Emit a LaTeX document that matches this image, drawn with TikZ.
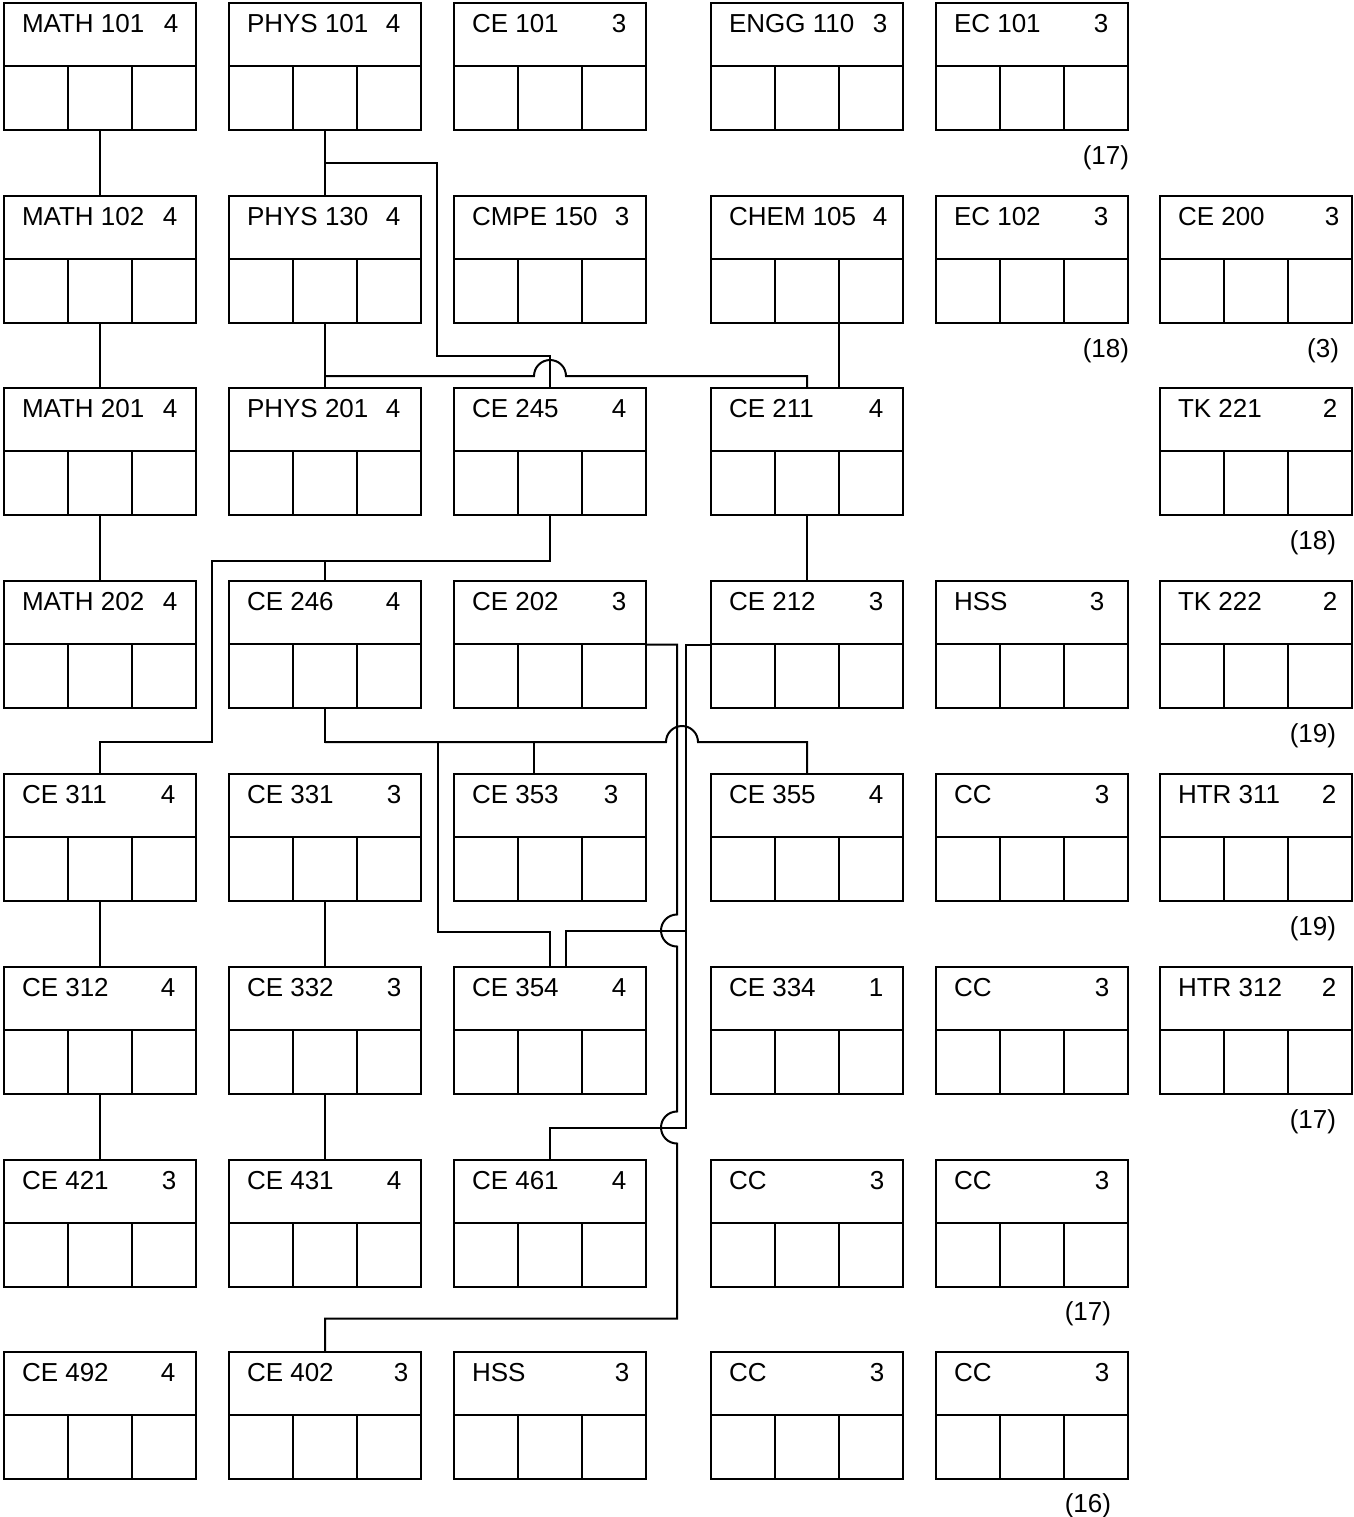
\documentclass[tikz,border=0pt]{standalone}
\usepackage{fontspec}
\setmainfont{Liberation Sans}
\usetikzlibrary{calc}

% one course box: name, left, top, title, credits, x of credits
\newcommand{\course}[6]{%
  \node[box] (#1) at (#2+96,#3+63.5) {};
  \draw (#2,#3+63) -- ++(192,0)
        (#2+64,#3+63) -- ++(0,64)
        (#2+128,#3+63) -- ++(0,64);
  \node[txt,anchor=base west] (#1-t) at (#2+17,#3+29.5) {#4};
  \node[txt,anchor=base] (#1-c) at (#6,#3+29.5) {#5};
}

\begin{document}
\begin{tikzpicture}[x=0.5pt,y=-0.5pt,line width=1pt,
  box/.style={draw,line width=1pt,minimum width=96pt,minimum height=63.5pt,inner sep=0pt},
  txt/.style={font=\fontsize{13}{15}\selectfont,inner sep=0pt}]
\useasboundingbox (0,0) rectangle (1354,1517);

% row 1
\course{m101}{4}{3}{MATH 101}{4}{171}
\course{p101}{229}{3}{PHYS 101}{4}{393}
\course{ce101}{454}{3}{CE 101}{3}{619}
\course{engg110}{711}{3}{ENGG 110}{3}{880}
\course{ec101}{936}{3}{EC 101}{3}{1101}
% row 2
\course{m102}{4}{196}{MATH 102}{4}{170}
\course{p130}{229}{196}{PHYS 130}{4}{393}
\course{cmpe150}{454}{196}{CMPE 150}{3}{622}
\course{chem105}{711}{196}{CHEM 105}{4}{880}
\course{ec102}{936}{196}{EC 102}{3}{1101}
\course{ce200}{1160}{196}{CE 200}{3}{1332}
% row 3
\course{m201}{4}{388}{MATH 201}{4}{170}
\course{p201}{229}{388}{PHYS 201}{4}{393}
\course{ce245}{454}{388}{CE 245}{4}{619}
\course{ce211}{711}{388}{CE 211}{4}{876}
\course{tk221}{1160}{388}{TK 221}{2}{1330}
% row 4
\course{m202}{4}{581}{MATH 202}{4}{170}
\course{ce246}{229}{581}{CE 246}{4}{393}
\course{ce202}{454}{581}{CE 202}{3}{619}
\course{ce212}{711}{581}{CE 212}{3}{876}
\course{hssa}{936}{581}{HSS}{3}{1097}
\course{tk222}{1160}{581}{TK 222}{2}{1330}
% row 5
\course{ce311}{4}{774}{CE 311}{4}{168}
\course{ce331}{229}{774}{CE 331}{3}{394}
\course{ce353}{454}{774}{CE 353}{3}{611}
\course{ce355}{711}{774}{CE 355}{4}{876}
\course{cca}{936}{774}{CC}{3}{1102}
\course{htr311}{1160}{774}{HTR 311}{2}{1329}
% row 6
\course{ce312}{4}{967}{CE 312}{4}{168}
\course{ce332}{229}{967}{CE 332}{3}{394}
\course{ce354}{454}{967}{CE 354}{4}{619}
\course{ce334}{711}{967}{CE 334}{1}{876}
\course{ccb}{936}{967}{CC}{3}{1102}
\course{htr312}{1160}{967}{HTR 312}{2}{1329}
% row 7
\course{ce421}{4}{1160}{CE 421}{3}{169}
\course{ce431}{229}{1160}{CE 431}{4}{394}
\course{ce461}{454}{1160}{CE 461}{4}{619}
\course{ccc}{711}{1160}{CC}{3}{877}
\course{ccd}{936}{1160}{CC}{3}{1102}
% row 8
\course{ce492}{4}{1352}{CE 492}{4}{168}
\course{ce402}{229}{1352}{CE 402}{3}{401}
\course{hssb}{454}{1352}{HSS}{3}{622}
\course{cce}{711}{1352}{CC}{3}{877}
\course{ccf}{936}{1352}{CC}{3}{1102}

% credit totals
\node[txt,anchor=base east] (sum1) at (1130,164) {(17)};
\node[txt,anchor=base east] (sum2) at (1130,357) {(18)};
\node[txt,anchor=base east] (sum2b) at (1340,357) {(3)};
\node[txt,anchor=base east] (sum3) at (1337,549) {(18)};
\node[txt,anchor=base east] (sum4) at (1337,742) {(19)};
\node[txt,anchor=base east] (sum5) at (1337,935) {(19)};
\node[txt,anchor=base east] (sum6) at (1337,1128) {(17)};
\node[txt,anchor=base east] (sum7) at (1112,1320) {(17)};
\node[txt,anchor=base east] (sum8) at (1112,1512) {(16)};

% prerequisites
\draw (m101.south) -- (m102.north);
\draw (m102.south) -- (m201.north);
\draw (m201.south) -- (m202.north);
\draw (p101.south) -- (p130.north);
\draw (p101.south) ++(0,32) -| ++(112,193) -| (ce245.north);
\draw (p130.south) -- (p201.north);
\draw (p201.north) ++(0,-11) -- ++(209,0) arc[start angle=180,end angle=360,radius=16] -| (ce211.north);
\draw ($(chem105.south)+(32,0)$) -- ($(ce211.north)+(32,0)$);
\draw (ce211.south) -- (ce212.north);
\draw (ce245.south) -- ++(0,45) -| (ce246.north);
\draw (ce245.south) ++(0,45) -| ++(-338,181) -| (ce311.north);
\draw (ce246.south) -- ++(0,33) -| ($(ce353.north)+(-16,0)$);
\draw (ce246.south) ++(0,33) -- ++(341,0) arc[start angle=180,end angle=360,radius=16] -| (ce355.north);
\draw (ce246.south) ++(113,33) -- ++(0,190) -| (ce354.north);
\draw (ce212.west) -| ++(-24,286) -| ($(ce354.north)+(16,0)$);
\draw (ce212.west) -| ++(-24,483) -| (ce461.north);
\draw (ce202.east) -- ++(30,0) -- ++(0,270)
  arc[start angle=270,end angle=90,radius=16] -- ++(0,165)
  arc[start angle=270,end angle=90,radius=16] -- ++(0,175) -| (ce402.north);
\draw (ce311.south) -- (ce312.north);
\draw (ce312.south) -- (ce421.north);
\draw (ce331.south) -- (ce332.north);
\draw (ce332.south) -- (ce431.north);
\end{tikzpicture}
\end{document}
